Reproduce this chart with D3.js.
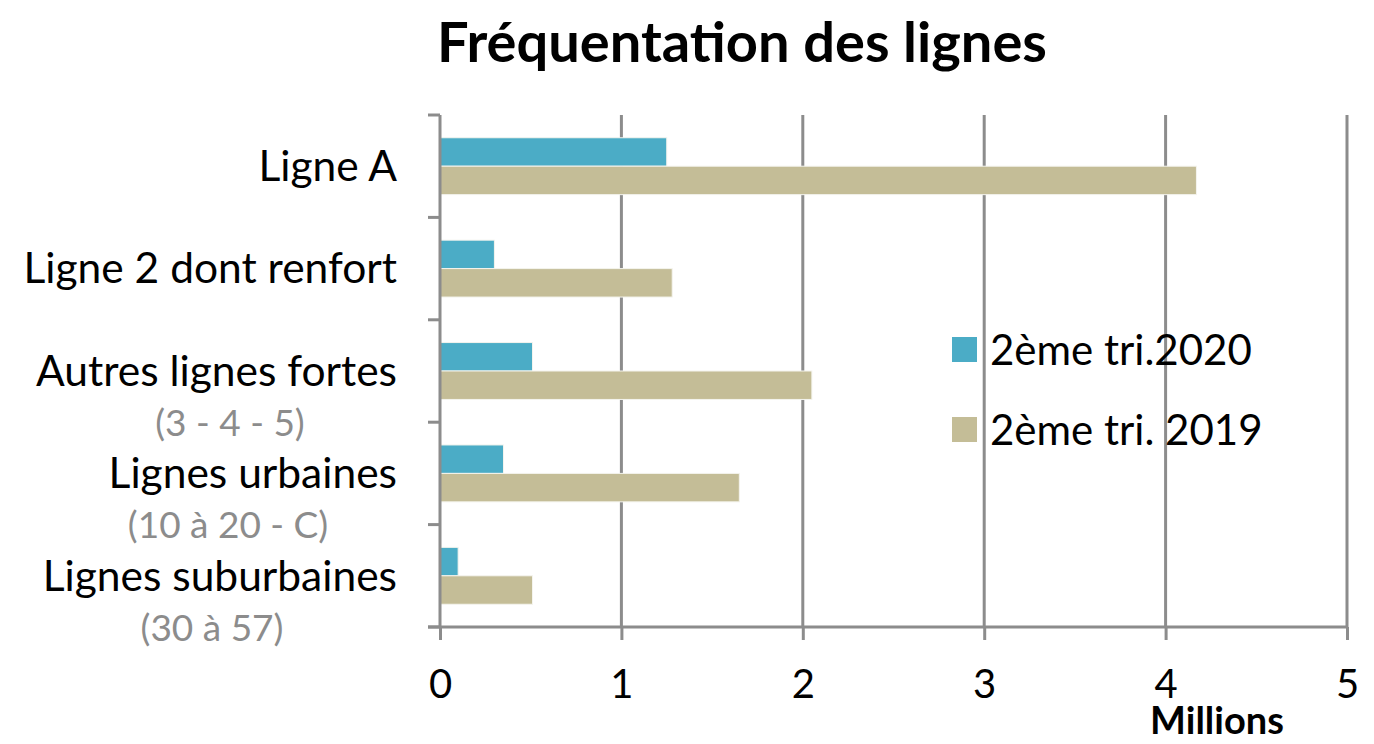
<!DOCTYPE html>
<html><head><meta charset="utf-8">
<script src="https://cdn.jsdelivr.net/npm/d3@7"></script>
<style>body{margin:0;background:#fff}svg{display:block}text{font-family:Lato,"Open Sans",sans-serif}</style>
</head><body><svg id="c" width="1374" height="744"></svg>
<script>
const categories = ["Ligne A","Ligne 2 dont renfort","Autres lignes fortes","Lignes urbaines","Lignes suburbaines"];
const subLabels = ["","","(3 - 4 - 5)","(10 à 20 - C)","(30 à 57)"];
const seriesNames = ["2ème tri.2020","2ème tri. 2019"];
const values2020 = [1.25,0.30,0.51,0.35,0.10];
const values2019 = [4.17,1.28,2.05,1.65,0.51];
const xTicks = [0,1,2,3,4,5];
const colors = ["#4BACC6","#C4BD97"];

const svg = d3.select("#c");
const L=440,R=1347,T=115,B=627;
const x = d3.scaleLinear().domain([0,5]).range([L,R]);
const y = d3.scaleBand().domain(categories).range([T,B]).padding(0);
const ys = d3.scaleBand().domain(seriesNames).range([0,y.bandwidth()]).paddingInner(0).paddingOuter(0.8);
const grey="#8c8c8c";

svg.append("text").attr("x",742).attr("y",62).attr("text-anchor","middle")
  .attr("font-size",56).attr("font-weight","bold").text("Fréquentation des lignes");

// gridlines
svg.append("g").selectAll("line").data(xTicks.slice(1)).join("line")
  .attr("x1",d=>x(d)).attr("x2",d=>x(d)).attr("y1",T).attr("y2",B)
  .attr("stroke",grey).attr("stroke-width",3);

// bars
const data = categories.map((c,i)=>({c,vals:[values2020[i],values2019[i]]}));
const g = svg.append("g");
data.forEach(d=>{
  d.vals.forEach((v,j)=>{
    g.append("rect").attr("x",x(0)).attr("y",y(d.c)+ys(seriesNames[j]))
     .attr("width",x(v)-x(0)).attr("height",ys.bandwidth())
     .attr("fill",colors[j]).attr("stroke","#f4f4ee").attr("stroke-width",1);
  });
});

// x axis
const xa = svg.append("g").attr("transform",`translate(0,${B})`)
  .call(d3.axisBottom(x).tickValues(xTicks).tickSize(13).tickPadding(30).tickFormat(d3.format("d")));
xa.select(".domain").remove();
xa.selectAll(".tick line").attr("stroke",grey).attr("stroke-width",3);
xa.selectAll(".tick text").attr("font-size",40).attr("fill","#000").attr("font-family","Lato");
svg.append("line").attr("x1",428).attr("x2",R).attr("y1",B).attr("y2",B).attr("stroke",grey).attr("stroke-width",3);

// y axis
const yTickPos = categories.map(c=>y(c)).concat([B]);
svg.append("line").attr("x1",L).attr("x2",L).attr("y1",T).attr("y2",B).attr("stroke",grey).attr("stroke-width",3);
svg.append("g").selectAll("line").data(yTickPos).join("line")
  .attr("x1",428).attr("x2",L).attr("y1",d=>d).attr("y2",d=>d).attr("stroke",grey).attr("stroke-width",3);

// category labels
const lab = svg.append("g");
categories.forEach((c,i)=>{
  const cy = y(c)+y.bandwidth()/2;
  lab.append("text").attr("x",397).attr("y",cy).attr("dy","0.35em").attr("text-anchor","end")
    .attr("font-size",42.5).attr("fill","#000").text(c);
  if(subLabels[i]) {
    lab.append("text").attr("x",[0,0,230,228,212][i]).attr("y",cy+52).attr("dy","0.35em").attr("text-anchor","middle")
      .attr("font-size",37).attr("fill","#8c8c8c").text(subLabels[i]);
  }
});

svg.append("text").attr("x",1217).attr("y",734).attr("text-anchor","middle")
  .attr("font-size",38).attr("font-weight","bold").text("Millions");

// legend
const lg = svg.append("g");
seriesNames.forEach((s,i)=>{
  lg.append("rect").attr("x",952).attr("y",337+i*80).attr("width",25).attr("height",25).attr("fill",colors[i]);
  lg.append("text").attr("x",990).attr("y",350+i*80).attr("dy","0.35em").attr("font-size",42).text(s);
});
</script></body></html>
